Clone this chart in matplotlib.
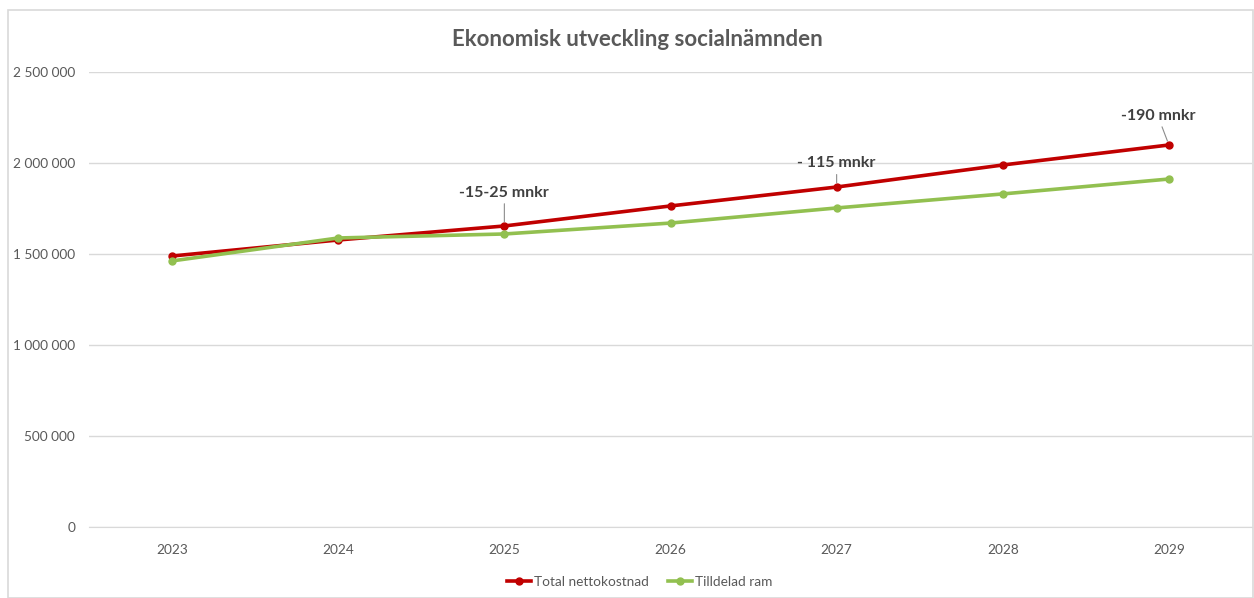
import matplotlib
matplotlib.use("Agg")
import matplotlib.pyplot as plt
from matplotlib.patches import Rectangle

years = ["2023", "2024", "2025", "2026", "2027", "2028", "2029"]
total_nettokostnad = [1489000, 1577000, 1654000, 1764000, 1868000, 1989000, 2099000]
tilldelad_ram = [1462000, 1588000, 1610000, 1670000, 1753000, 1830000, 1912000]
yticks = [0, 500000, 1000000, 1500000, 2000000, 2500000]
ytick_labels = ["0", "500 000", "1 000 000", "1 500 000", "2 000 000", "2 500 000"]
annotations = [(2, "-15-25 mnkr"), (4, "- 115 mnkr"), (6, "-190 mnkr")]

plt.rcParams['font.family'] = ['Lato', 'DejaVu Sans']
fig = plt.figure(figsize=(12.54, 5.98), dpi=100)
fig.patches.append(Rectangle((8/1254, 0.0), 1 - 8/1254 - 0.001, 1 - 10/598, transform=fig.transFigure,
                             fill=False, edgecolor="#d9d9d9", linewidth=1.2))
ax = fig.add_axes([89/1254, 1 - 527/598, (1252 - 89)/1254, (527 - 72)/598])

x = list(range(len(years)))
red = "#c00000"
green = "#92c050"
ax.plot(x, total_nettokostnad, color=red, lw=2.6, marker="o", ms=5, label="Total nettokostnad", zorder=3)
ax.plot(x, tilldelad_ram, color=green, lw=2.6, marker="o", ms=5, label="Tilldelad ram", zorder=4)

ax.set_xlim(-0.5, len(years) - 0.5)
ax.set_ylim(0, 2500000)
ax.set_yticks(yticks)
ax.set_yticklabels(ytick_labels)
ax.set_xticks(x)
ax.set_xticklabels(years)
ax.grid(axis="y", color="#d9d9d9", lw=1)
ax.set_axisbelow(True)
for s in ["top", "right", "left"]:
    ax.spines[s].set_visible(False)
ax.spines["bottom"].set_color("#d9d9d9")
ax.tick_params(axis="both", length=0, colors="#595959", labelsize=9.8)
ax.tick_params(axis="y", pad=10)
ax.tick_params(axis="x", pad=12)

offsets = {2: (0, 19), 4: (0, 12), 6: (-8, 16)}
for i, txt in annotations:
    dx, dy = offsets[i]
    ax.annotate(txt, xy=(x[i], total_nettokostnad[i]), xytext=(dx, dy), textcoords="offset points",
                ha="center", va="bottom", fontsize=11.5, fontweight="bold", color="#404040",
                arrowprops=dict(arrowstyle="-", color="#8c8c8c", lw=0.8, shrinkA=1, shrinkB=3))

fig.text(0.508, 1 - 40/598, "Ekonomisk utveckling socialnämnden", ha="center", va="center",
         fontsize=16, fontweight="bold", color="#595959")

fig.legend(loc="center", bbox_to_anchor=(0.51, 1 - 582/598), ncol=2, frameon=False,
           fontsize=9.8, labelcolor="#595959", handlelength=1.8, handletextpad=0.2, columnspacing=1.4)

fig.savefig("out.png", dpi=100)
